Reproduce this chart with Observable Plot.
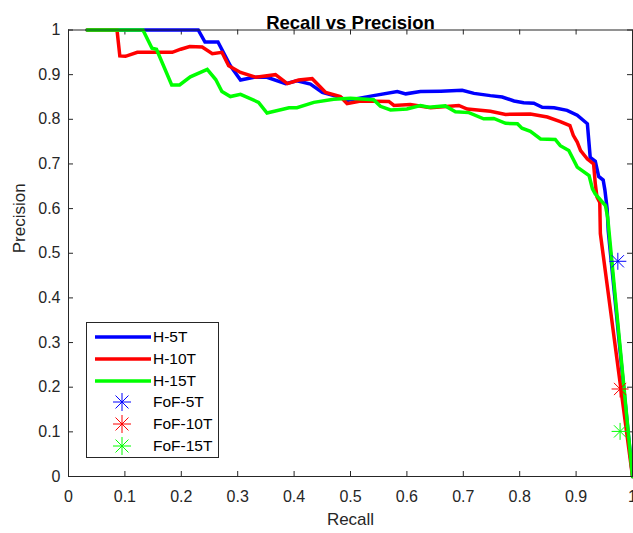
<!DOCTYPE html>
<html>
<head>
<meta charset="utf-8">
<script src="https://cdn.jsdelivr.net/npm/d3@7"></script>
<script src="https://cdn.jsdelivr.net/npm/@observablehq/plot@0.6"></script>
<style>
  html, body { margin: 0; padding: 0; background: #fff; }
  #wrap { position: relative; width: 633px; height: 533px; font-family: "Liberation Sans", Arial, sans-serif; }
  #legend { position: absolute; left: 86px; top: 322px; width: 133px; height: 136px; border: 1px solid #262626; background: #fff; box-sizing: border-box; }
  .row { position: absolute; left: 0; height: 20px; width: 133px; }
  .row svg { position: absolute; left: 0; top: 0; }
  .row span { position: absolute; left: 66px; top: 0; line-height: 20px; font-size: 15.5px; color: #000; }
</style>
</head>
<body>
<div id="wrap"></div>
<script>
// ---- data ----
const h5Recall    = [0.033, 0.230, 0.242, 0.265, 0.287, 0.305, 0.329, 0.352, 0.385, 0.405, 0.429, 0.450, 0.482, 0.494, 0.541, 0.583, 0.598, 0.624, 0.660, 0.698, 0.719, 0.748, 0.769, 0.790, 0.807, 0.825, 0.840, 0.861, 0.884, 0.902, 0.920, 0.925, 0.934, 0.940, 0.948, 0.951, 0.955, 0.957, 1.000];
const h5Precision = [1.000, 1.000, 0.973, 0.973, 0.920, 0.888, 0.894, 0.894, 0.880, 0.886, 0.879, 0.860, 0.849, 0.842, 0.853, 0.862, 0.857, 0.862, 0.863, 0.865, 0.858, 0.853, 0.850, 0.841, 0.837, 0.836, 0.827, 0.826, 0.820, 0.809, 0.790, 0.715, 0.706, 0.672, 0.664, 0.642, 0.600, 0.550, 0.000];

const h10Recall    = [0.033, 0.086, 0.091, 0.101, 0.122, 0.184, 0.199, 0.215, 0.237, 0.255, 0.272, 0.284, 0.305, 0.332, 0.367, 0.388, 0.408, 0.432, 0.456, 0.482, 0.494, 0.518, 0.568, 0.577, 0.606, 0.642, 0.692, 0.707, 0.748, 0.775, 0.819, 0.849, 0.872, 0.889, 0.895, 0.902, 0.908, 0.920, 0.931, 0.934, 0.937, 0.942, 0.943, 1.000];
const h10Precision = [1.000, 1.000, 0.942, 0.941, 0.950, 0.950, 0.957, 0.963, 0.962, 0.947, 0.950, 0.920, 0.905, 0.894, 0.900, 0.880, 0.888, 0.891, 0.860, 0.851, 0.835, 0.841, 0.840, 0.831, 0.833, 0.826, 0.831, 0.823, 0.818, 0.811, 0.812, 0.805, 0.795, 0.786, 0.764, 0.749, 0.730, 0.711, 0.700, 0.656, 0.626, 0.614, 0.544, 0.000];

const h15Recall    = [0.033, 0.132, 0.148, 0.156, 0.183, 0.197, 0.216, 0.246, 0.261, 0.272, 0.287, 0.305, 0.337, 0.352, 0.391, 0.405, 0.435, 0.470, 0.500, 0.541, 0.553, 0.571, 0.600, 0.624, 0.639, 0.668, 0.686, 0.710, 0.736, 0.754, 0.775, 0.796, 0.804, 0.819, 0.837, 0.863, 0.872, 0.887, 0.902, 0.923, 0.929, 0.934, 0.952, 0.956, 1.000];
const h15Precision = [1.000, 1.000, 0.959, 0.957, 0.877, 0.877, 0.895, 0.912, 0.889, 0.862, 0.851, 0.856, 0.838, 0.814, 0.826, 0.826, 0.838, 0.845, 0.847, 0.844, 0.829, 0.821, 0.823, 0.831, 0.827, 0.830, 0.817, 0.815, 0.801, 0.802, 0.791, 0.790, 0.780, 0.773, 0.756, 0.755, 0.741, 0.730, 0.693, 0.674, 0.644, 0.633, 0.607, 0.580, 0.000];

const fofNames     = ["FoF-5T", "FoF-10T", "FoF-15T"];
const fofRecall    = [0.974, 0.978, 0.978];
const fofPrecision = [0.482, 0.196, 0.101];

const seriesNames = ["H-5T", "H-10T", "H-15T"];
const colors = ["#0000ff", "#ff0000", "#00ff00"];
const tickValues = [0, 0.1, 0.2, 0.3, 0.4, 0.5, 0.6, 0.7, 0.8, 0.9, 1];

// ---- build tables ----
const toRows = (xs, ys) => xs.map((x, i) => ({recall: x, precision: ys[i]}));
const lines = [toRows(h5Recall, h5Precision), toRows(h10Recall, h10Precision), toRows(h15Recall, h15Precision)];
const fof = fofNames.map((n, i) => ({name: n, recall: fofRecall[i], precision: fofPrecision[i], color: colors[i]}));

const W = 633, H = 533, ML = 68, MR = 1, MT = 29.5, MB = 57;
const tickLen = 5;
const tx = tickLen / (W - ML - MR);   // tick length in x units
const ty = tickLen / (H - MT - MB);   // tick length in y units

const asterisk = {
  draw(ctx, size) {
    const r = Math.sqrt(size / Math.PI);
    const d = r * 0.72;
    ctx.moveTo(-r, 0); ctx.lineTo(r, 0);
    ctx.moveTo(0, -r); ctx.lineTo(0, r);
    ctx.moveTo(-d, -d); ctx.lineTo(d, d);
    ctx.moveTo(-d, d); ctx.lineTo(d, -d);
  }
};

const fmt = d => String(+d.toFixed(1));
const axisColor = "#262626";

const chart = Plot.plot({
  width: W, height: H,
  marginLeft: ML, marginRight: MR, marginTop: MT, marginBottom: MB,
  style: {fontFamily: "'Liberation Sans', Arial, sans-serif", background: "#fff", overflow: "visible"},
  x: {domain: [0, 1], ticks: tickValues, tickFormat: fmt},
  y: {domain: [0, 1], ticks: tickValues, tickFormat: fmt},
  marks: [
    Plot.axisX({ticks: tickValues, tickFormat: fmt, tickSize: 0, tickPadding: 14.6, fontSize: 16, color: axisColor, label: null}),
    Plot.axisY({ticks: tickValues, tickFormat: fmt, tickSize: 0, tickPadding: 8, fontSize: 16, color: axisColor, label: null}),
    // inward ticks on all four sides
    Plot.ruleX(tickValues, {x: d => d, y1: 0, y2: ty, stroke: axisColor, strokeWidth: 1}),
    Plot.ruleX(tickValues, {x: d => d, y1: 1 - ty, y2: 1, stroke: axisColor, strokeWidth: 1}),
    Plot.ruleY(tickValues, {y: d => d, x1: 0, x2: tx, stroke: axisColor, strokeWidth: 1}),
    Plot.ruleY(tickValues, {y: d => d, x1: 1 - tx, x2: 1, stroke: axisColor, strokeWidth: 1}),
    ...lines.map((rows, i) => Plot.line(rows, {x: "recall", y: "precision", stroke: colors[i], strokeWidth: 3.5, strokeLinejoin: "miter", strokeMiterlimit: 2})),
    Plot.dot(fof, {x: "recall", y: "precision", stroke: "color", symbol: asterisk, r: 8.5, strokeWidth: 1}),
    Plot.frame({stroke: axisColor, strokeWidth: 1}),
    Plot.text(["Recall vs Precision"], {frameAnchor: "top", dy: -13.7, text: d => d, fontSize: 18.5, fontWeight: "bold", fill: "#000"}),
    Plot.text(["Recall"], {frameAnchor: "bottom", dy: 48, text: d => d, fontSize: 17, fill: axisColor}),
    Plot.text(["Precision"], {frameAnchor: "left", dx: -48.5, rotate: -90, text: d => d, fontSize: 17, fill: axisColor})
  ]
});

const wrap = document.getElementById("wrap");
wrap.appendChild(chart);

// ---- legend (HTML overlay) ----
const legend = document.createElement("div");
legend.id = "legend";
const rowTops = [4, 26, 47.5, 69, 91, 112.5];
const entries = [
  ...seriesNames.map((n, i) => ({name: n, color: colors[i], kind: "line"})),
  ...fofNames.map((n, i) => ({name: n, color: colors[i], kind: "star"}))
];
entries.forEach((e, i) => {
  const row = document.createElement("div");
  row.className = "row";
  row.style.top = rowTops[i] + "px";
  const ns = "http://www.w3.org/2000/svg";
  const svg = document.createElementNS(ns, "svg");
  svg.setAttribute("width", "64"); svg.setAttribute("height", "20");
  if (e.kind === "line") {
    const l = document.createElementNS(ns, "line");
    l.setAttribute("x1", "8"); l.setAttribute("x2", "64");
    l.setAttribute("y1", "10"); l.setAttribute("y2", "10");
    l.setAttribute("stroke", e.color); l.setAttribute("stroke-width", "3.5");
    svg.appendChild(l);
  } else {
    const p = document.createElementNS(ns, "path");
    const r = 9, d = r * 0.72, cx = 35, cy = 10;
    p.setAttribute("d", `M${cx - r},${cy}H${cx + r}M${cx},${cy - r}V${cy + r}M${cx - d},${cy - d}L${cx + d},${cy + d}M${cx - d},${cy + d}L${cx + d},${cy - d}`);
    p.setAttribute("stroke", e.color); p.setAttribute("stroke-width", "1"); p.setAttribute("fill", "none");
    svg.appendChild(p);
  }
  row.appendChild(svg);
  const s = document.createElement("span");
  s.textContent = e.name;
  row.appendChild(s);
  legend.appendChild(row);
});
wrap.appendChild(legend);
</script>
</body>
</html>
